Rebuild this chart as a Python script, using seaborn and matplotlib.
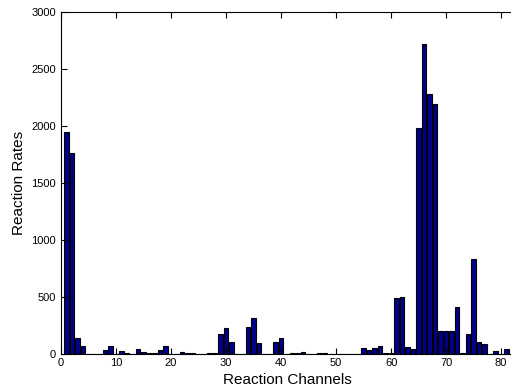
import numpy as np
import pandas as pd
import seaborn as sns
import matplotlib.pyplot as plt

# reaction channels 1..81 and their rates
channels = list(range(1, 82))
rates = [1945, 1760, 135, 62, 0, 0, 0, 28, 70, 0,
         25, 2, 0, 37, 10, 2, 3, 33, 62, 0,
         0, 14, 7, 5, 0, 0, 3, 5, 172, 225,
         100, 0, 0, 236, 315, 90, 0, 0, 103, 140,
         0, 5, 5, 16, 0, 0, 4, 4, 0, 0,
         0, 0, 0, 0, 50, 28, 50, 62, 4, 3,
         485, 498, 56, 37, 1985, 2722, 2277, 2196, 202, 196,
         196, 406, 6, 167, 828, 100, 86, 0, 24, 0,
         42]

df = pd.DataFrame({"channel": channels, "rate": rates})

plt.rcParams['font.family'] = ['Liberation Sans', 'DejaVu Sans']
fig = plt.figure(figsize=(5.11, 3.91), dpi=100)
ax = fig.add_axes([0.1194, 0.0959, 0.886, 0.8734])

sns.barplot(data=df, x="channel", y="rate", native_scale=True, ax=ax,
            color=(0, 0, 0.5625), saturation=1, edgecolor="black", linewidth=0.8)

ax.set_xlim(0, 82.3)
ax.set_ylim(0, 3000)
ax.set_xticks(range(0, 81, 10))
ax.set_yticks(range(0, 3001, 500))
ax.tick_params(direction="in", top=True, right=False, labelsize=8, length=4, width=0.8)
for s in ax.spines.values():
    s.set_linewidth(0.8)
ax.set_xlabel("Reaction Channels", fontsize=11, labelpad=3)
ax.set_ylabel("Reaction Rates", fontsize=11, labelpad=4)

fig.savefig("out.png", dpi=100)
